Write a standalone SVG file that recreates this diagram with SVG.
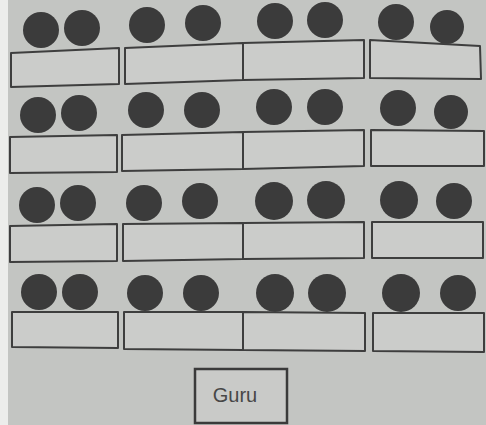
<svg xmlns="http://www.w3.org/2000/svg" width="486" height="425" viewBox="0 0 486 425">
<style>
.s{fill:#3b3b3b;}
.d{fill:#cbccca;stroke:#3e3e3e;stroke-width:2;stroke-linejoin:round;}
.g{fill:#c9cac8;stroke:#3a3a3a;stroke-width:2.5;}
.t{font-family:"Liberation Sans",Arial,sans-serif;font-size:20px;fill:#474747;}
</style>
<rect x="0" y="0" width="486" height="425" fill="#c3c5c2"/>
<rect x="0" y="0" width="8" height="425" fill="#ecedeb"/>
<g id="row1">
<circle class="s" cx="41" cy="30" r="18"/><circle class="s" cx="82" cy="28" r="18"/>
<circle class="s" cx="147" cy="25" r="18"/><circle class="s" cx="203" cy="23" r="18"/>
<circle class="s" cx="275" cy="21" r="18"/><circle class="s" cx="325" cy="20" r="18"/>
<circle class="s" cx="396" cy="22" r="18"/><circle class="s" cx="447" cy="27" r="17"/>
<polygon class="d" points="11,53 119,48 119,84 11,87"/>
<polygon class="d" points="125,48 243,43 243,80 125,84"/>
<polygon class="d" points="243,43 364,40 364,78 243,80"/>
<polygon class="d" points="370,40 480,46 481,79 370,78"/>
</g>
<g id="row2">
<circle class="s" cx="38" cy="115" r="18"/><circle class="s" cx="79" cy="113" r="18"/>
<circle class="s" cx="146" cy="110" r="18"/><circle class="s" cx="202" cy="110" r="18"/>
<circle class="s" cx="274" cy="107" r="18"/><circle class="s" cx="325" cy="107" r="18"/>
<circle class="s" cx="398" cy="108" r="18"/><circle class="s" cx="451" cy="112" r="17"/>
<polygon class="d" points="10,137 117,135 117,172 10,173"/>
<polygon class="d" points="122,135 243,132 243,169 122,171"/>
<polygon class="d" points="243,132 364,130 364,166 243,169"/>
<polygon class="d" points="371,130 484,131 484,166 371,166"/>
</g>
<g id="row3">
<circle class="s" cx="37" cy="205" r="18"/><circle class="s" cx="78" cy="203" r="18"/>
<circle class="s" cx="144" cy="203" r="18"/><circle class="s" cx="200" cy="201" r="18"/>
<circle class="s" cx="274" cy="201" r="19"/><circle class="s" cx="326" cy="200" r="19"/>
<circle class="s" cx="399" cy="200" r="19"/><circle class="s" cx="454" cy="201" r="18"/>
<polygon class="d" points="10,226 117,224 117,261 10,262"/>
<polygon class="d" points="123,224 243,223 243,259 123,261"/>
<polygon class="d" points="243,223 364,222 364,258 243,259"/>
<polygon class="d" points="372,222 483,222 483,258 372,258"/>
</g>
<g id="row4">
<circle class="s" cx="39" cy="292" r="18"/><circle class="s" cx="80" cy="292" r="18"/>
<circle class="s" cx="145" cy="293" r="18"/><circle class="s" cx="201" cy="293" r="18"/>
<circle class="s" cx="275" cy="293" r="19"/><circle class="s" cx="327" cy="293" r="19"/>
<circle class="s" cx="401" cy="293" r="19"/><circle class="s" cx="458" cy="293" r="18"/>
<polygon class="d" points="12,312 118,312 118,348 12,347"/>
<polygon class="d" points="124,312 243,312 243,350 124,349"/>
<polygon class="d" points="243,312 365,313 365,351 243,350"/>
<polygon class="d" points="373,313 484,313 484,352 373,351"/>
</g>
<g id="guru">
<rect class="g" x="195" y="369" width="92" height="54"/>
<text class="t" x="235" y="402" text-anchor="middle">Guru</text>
</g>
</svg>
